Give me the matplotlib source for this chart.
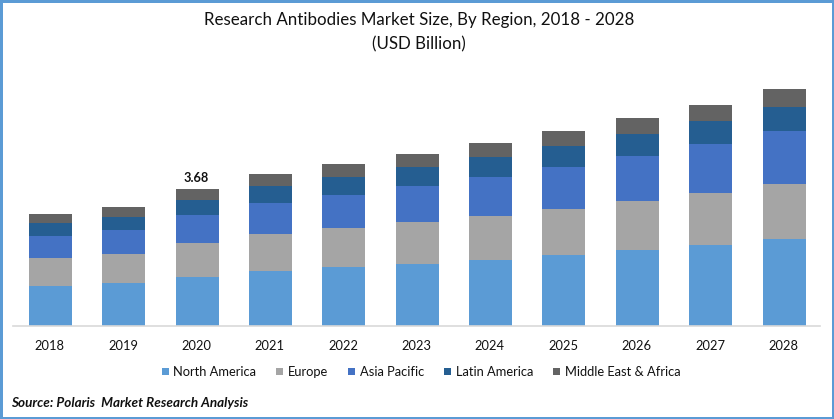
import matplotlib
matplotlib.use("Agg")
import matplotlib.pyplot as plt
from matplotlib.patches import Rectangle
import numpy as np

years = ["2018","2019","2020","2021","2022","2023","2024","2025","2026","2027","2028"]
north_america = [1.08,1.16,1.32,1.48,1.59,1.67,1.77,1.91,2.04,2.18,2.34]
europe = [0.75,0.78,0.91,0.99,1.05,1.13,1.18,1.24,1.32,1.40,1.48]
asia_pacific = [0.59,0.65,0.75,0.83,0.89,0.97,1.05,1.13,1.21,1.32,1.42]
latin_america = [0.35,0.35,0.40,0.46,0.48,0.51,0.54,0.56,0.59,0.62,0.65]
middle_east = [0.24,0.27,0.30,0.32,0.35,0.35,0.38,0.40,0.43,0.43,0.48]

series = [north_america,europe,asia_pacific,latin_america,middle_east]
names = ["North America","Europe","Asia Pacific","Latin America","Middle East & Africa"]
colors = ["#5B9BD5","#A5A5A5","#4472C4","#255E91","#636363"]

plt.rcParams['font.family'] = ['Lato','DejaVu Sans']
W,H = 834,419
fig = plt.figure(figsize=(W/100,H/100),dpi=100)

# axes box in pixels: x 13-820, baseline at y=326
ax = fig.add_axes([13/W,1-326/H,807/W,(326-60)/H])
x = np.arange(len(years))
bottom = np.zeros(len(years))
for vals,name,c in zip(series,names,colors):
    ax.bar(x+0.01,vals,0.586,bottom=bottom,color=c,label=name)
    bottom += np.array(vals)

ax.set_xlim(-0.5,10.5)
ax.set_ylim(0,266/37.2)
ax.set_yticks([])
ax.set_xticks(x)
ax.set_xticklabels(years,fontsize=9.3,color="#111111")
ax.tick_params(axis='x',length=0,pad=10)
for s in ['top','left','right']:
    ax.spines[s].set_visible(False)
ax.spines['bottom'].set_color("#D9D9D9")
ax.spines['bottom'].set_linewidth(1.2)

ax.text(2,bottom[2]+0.13,"3.68",ha='center',va='bottom',fontsize=9.2,fontweight='bold',color="#111111")

fig.text(419/W,1-20/H,"Research Antibodies Market Size, By Region, 2018 - 2028",ha='center',va='center',fontsize=12.2,color="#111111")
fig.text(419/W,1-44/H,"(USD Billion)",ha='center',va='center',fontsize=12.2,color="#111111")
fig.text(11/W,1-403/H,"Source: Polaris  Market Research Analysis",ha='left',va='center',fontsize=9.7,fontstyle='italic',fontweight='bold',color="#111111")

fig.legend(loc='center',bbox_to_anchor=(421/W,1-372/H),ncol=5,frameon=False,fontsize=9.3,
           handlelength=0.55,handleheight=0.55,handletextpad=0.35,columnspacing=1.55,labelcolor="#111111")

# blue frame round the picture
fig.add_artist(Rectangle((0,0),1,1,transform=fig.transFigure,fill=False,edgecolor="#5B9BD5",linewidth=3.6))

fig.savefig("out.png",dpi=100)
